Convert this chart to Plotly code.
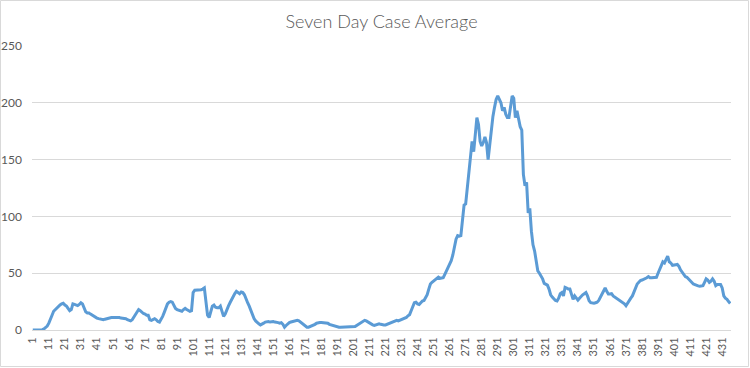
import plotly.graph_objects as go

title_text = "Seven Day Case Average"

case_avg = [
    0, 0, 0, 0, 0, 0, 0.3, 1, 2, 3.5,
    6, 9, 13, 16.5, 18, 19.5, 21, 22, 23, 23.5,
    22, 21, 19, 17, 18, 23, 22.5, 22, 21.5, 22.5,
    24, 23, 19, 16, 15, 15, 14, 13, 12, 11,
    10.5, 10, 9.5, 9, 9, 9.5, 10, 10.5, 11, 11,
    11, 11, 11.5, 11, 11, 10.5, 10.5, 10, 10, 9,
    8.5, 8, 9, 11, 13, 15, 18, 17, 15.5, 14.5,
    14, 13, 13, 9, 8.5, 9.5, 10, 9, 7.5, 7,
    9, 12, 15.5, 19, 23, 24.5, 25, 24.5, 21, 19,
    18, 17.5, 17, 16.5, 18, 19, 18, 17, 16.5, 17,
    33, 35, 35, 35, 35, 35.5, 36, 37, 25, 13,
    11, 16, 21, 22, 20, 19.5, 19.5, 21, 17, 12,
    14, 18, 21, 24, 27, 29, 32, 34, 33, 32,
    33.5, 33, 31, 27, 24, 21, 17, 13, 10, 8,
    6.5, 5.5, 4.5, 5, 6, 7, 7.5, 7.5, 7, 7.5,
    7.5, 7, 7, 6.5, 6, 6.5, 5, 2.5, 4, 5.5,
    6.5, 7, 7.5, 8, 8.5, 8.5, 8, 7, 6, 5,
    3.5, 2.5, 2.5, 3, 4, 4.5, 5, 6, 6.5, 6.5,
    6.5, 6.5, 6.5, 6.5, 6, 5, 4.5, 4, 3.5, 3.5,
    3, 2.5, 2.5, 2.5, 3, 2.5, 2.5, 3, 2.5, 2.5,
    2.5, 3, 4, 5, 6, 7, 8, 8.5, 8, 7,
    6.5, 5.5, 4.5, 4, 4.5, 5, 5.5, 5, 4.5, 4.5,
    4.5, 5, 6, 6.5, 7, 7.5, 8, 8.5, 8, 8.5,
    9, 9.5, 10, 11, 12.5, 13.5, 17, 21, 24, 24.5,
    23, 22.5, 24, 25.5, 26, 28, 31, 36, 40.5, 42,
    43, 44, 45, 46.5, 45.5, 45.5, 46, 49, 52, 55,
    58, 61, 66, 72, 80, 83, 82.5, 83, 100, 110,
    111, 125, 138, 155, 166, 157, 171, 187, 181, 166,
    162, 165, 170, 165, 150, 162, 179, 188, 196, 203,
    206, 203, 200, 193, 196, 190, 187, 187, 196, 206,
    204, 187, 193, 185, 179, 176, 137, 127, 130, 103,
    107, 87, 75, 69.5, 60, 52, 50, 48, 45, 41,
    40, 39.5, 36, 31, 29, 27, 26, 25.5, 28, 32,
    33, 30, 37.6, 37, 36, 36, 32, 27, 30, 28,
    26.3, 28, 30, 31, 32, 33, 30, 25.7, 24, 23.4,
    23.5, 24, 24.5, 26, 29, 32, 35, 37, 34, 31.7,
    31.7, 32, 30, 29, 28, 27, 26.5, 25.7, 24, 23,
    21.3, 24, 26.3, 28, 30, 34, 38, 40.5, 42, 43.5,
    44, 44.5, 45, 46, 47, 46, 46, 46, 46.5, 46.4,
    50, 54, 57, 60, 59, 62, 65, 60, 59, 57,
    57, 57.5, 57.7, 56, 53, 51, 49, 47, 46.4, 45,
    43, 41.4, 40.5, 40, 39, 38.8, 38.5, 38.5, 39, 42,
    45, 44, 42, 43, 45, 43, 39, 40, 40, 40,
    37, 30, 28, 27, 25, 23.4,
]
days = list(range(1, len(case_avg) + 1))
x_tick_vals = days[::10]
x_tick_text = [str(d) for d in x_tick_vals]
y_tick_vals = [0, 50, 100, 150, 200, 250]

W, H = 750, 368
ML, MR, MT, MB = 32, 19, 46, 38
pw, ph = W - ML - MR, H - MT - MB

fig = go.Figure()
fig.add_trace(go.Scatter(
    x=days, y=case_avg, mode="lines",
    line=dict(color="#5b9bd5", width=3),
    hoverinfo="x+y", showlegend=False,
))

font_family = "Lato, 'Open Sans', sans-serif"
fig.update_layout(
    width=W, height=H,
    margin=dict(l=ML, r=MR, t=MT, b=MB, autoexpand=False),
    paper_bgcolor="white", plot_bgcolor="white",
    title=dict(text=title_text, x=0.5, xanchor="center", xref="paper",
               y=1 - 22 / H, yanchor="middle", yref="container",
               font=dict(family=font_family, size=18, color="#595959", weight=300)),
    font=dict(family=font_family, color="#595959"),
    xaxis=dict(range=[0.5, len(days) + 0.5], tickmode="array",
               tickvals=x_tick_vals, ticktext=x_tick_text, tickangle=-90,
               showgrid=False, showline=True, linecolor="#d9d9d9", linewidth=1,
               ticks="", zeroline=False, automargin=False, ticklabelstandoff=2,
               tickfont=dict(size=11, color="#595959")),
    yaxis=dict(range=[0, 250], tickmode="array", tickvals=y_tick_vals,
               showgrid=True, gridcolor="#d9d9d9", gridwidth=1,
               showline=False, zeroline=False, ticks="", ticklabelstandoff=9,
               automargin=False,
               tickfont=dict(size=12, color="#595959")),
    shapes=[dict(type="rect", xref="paper", yref="paper",
                 x0=-(ML - 0.5) / pw, x1=1 + (MR - 1.5) / pw,
                 y0=-(MB - 1.5) / ph, y1=1 + (MT - 0.5) / ph,
                 line=dict(color="#d9d9d9", width=1), layer="below")],
)

fig.write_html(
    "out.html",
    config={"displayModeBar": False},
    post_script="document.body.style.margin='0';document.body.style.overflow='hidden';",
)
